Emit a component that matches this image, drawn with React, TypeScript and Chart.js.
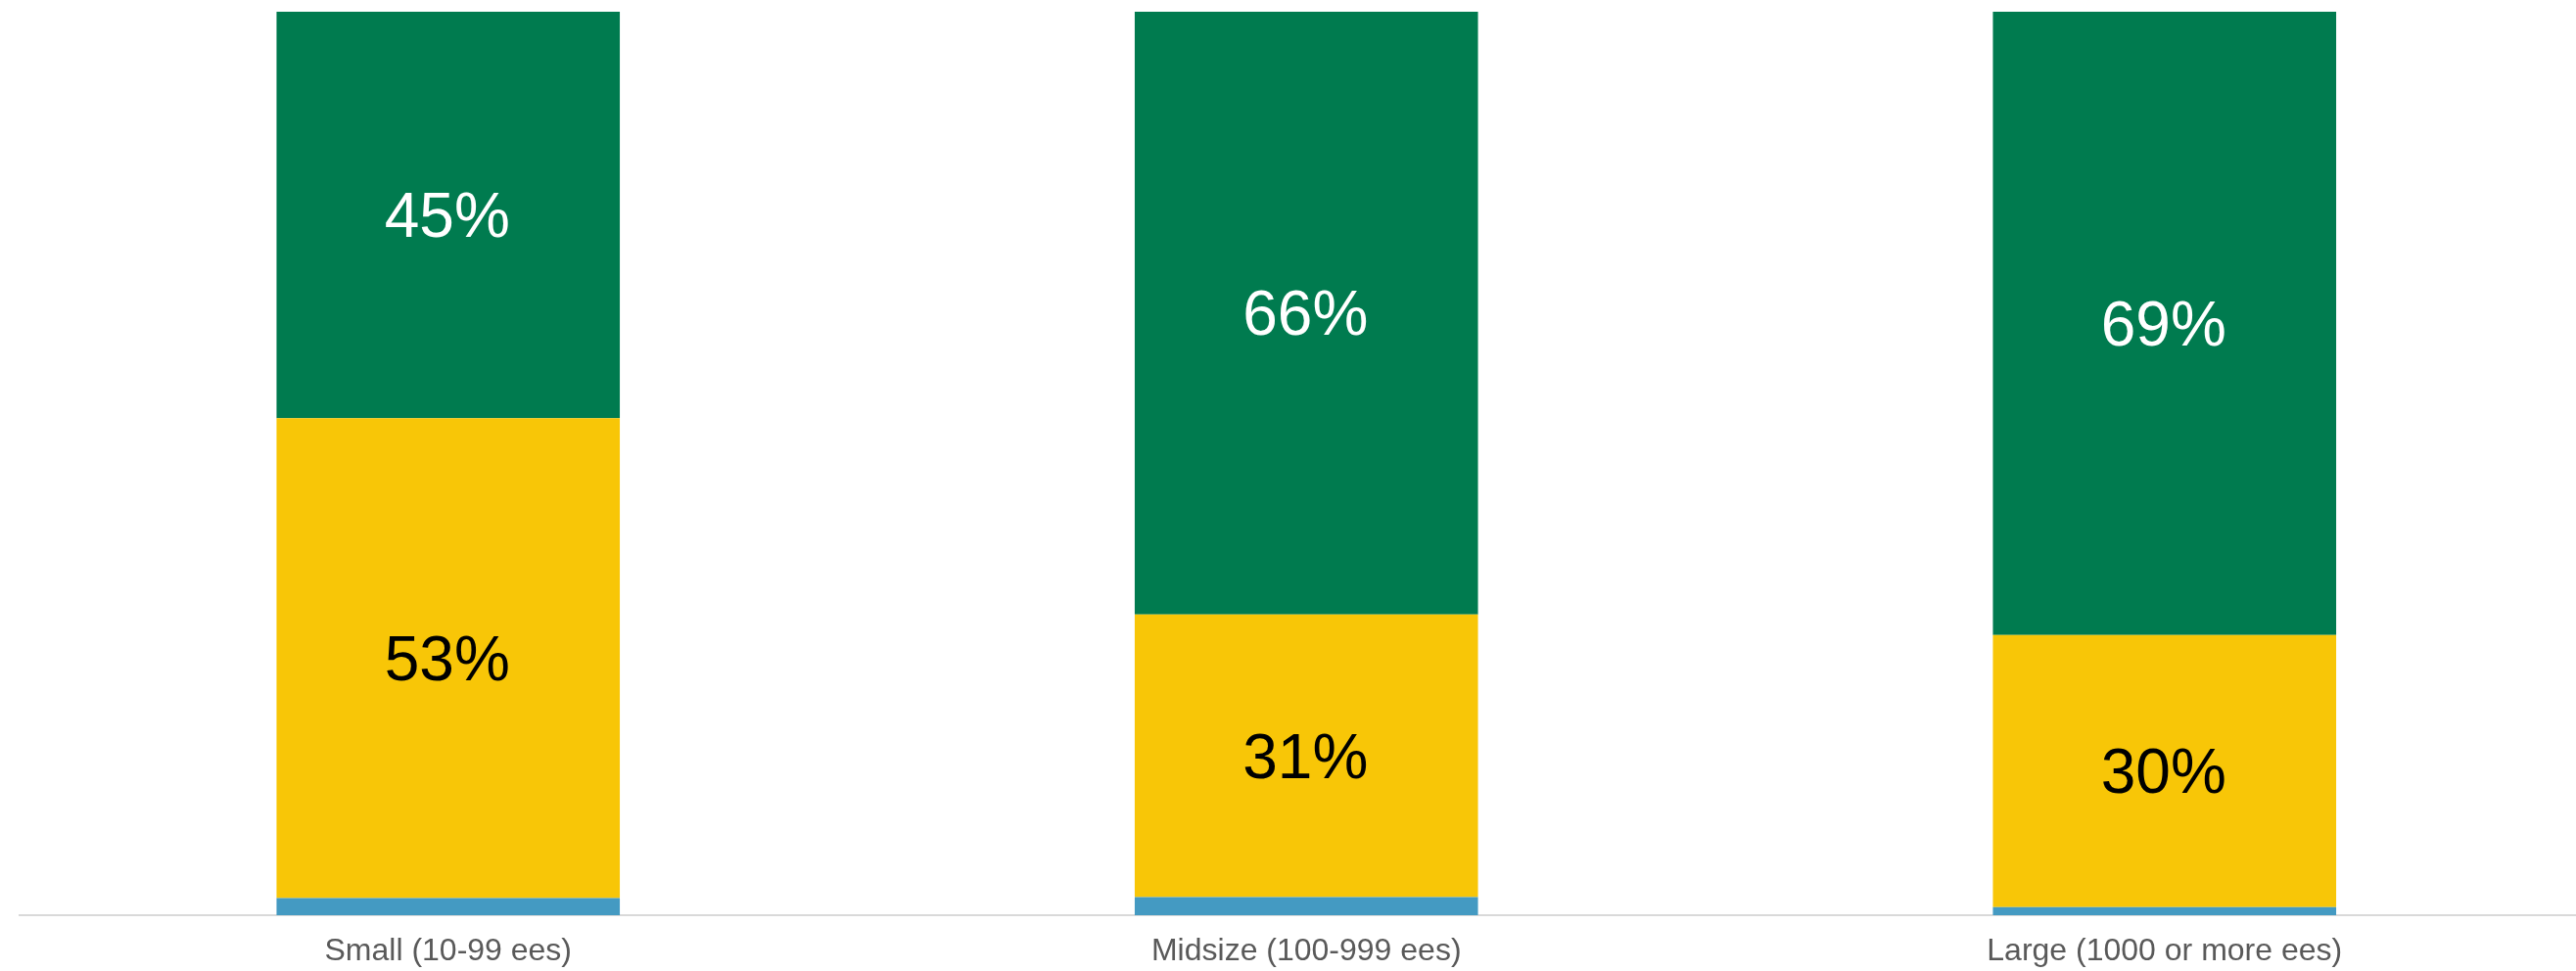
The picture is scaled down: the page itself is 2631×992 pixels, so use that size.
import React, { useEffect, useRef } from "react";
import { Chart, registerables } from "chart.js";

Chart.register(...registerables);

const categories = ["Small (10-99 ees)", "Midsize (100-999 ees)", "Large (1000 or more ees)"];
const blueValues = [1.9, 2.0, 0.9];
const yellowValues = [53.1, 31.3, 30.1];
const greenValues = [45.0, 66.7, 69.0];
const yellowLabels = ["53%", "31%", "30%"];
const greenLabels = ["45%", "66%", "69%"];

const BLUE = "rgb(68,154,194)";
const YELLOW = "rgb(248,198,7)";
const GREEN = "rgb(0,123,79)";
const FONT = "'Liberation Sans', Arial, sans-serif";

const labelPlugin = {
  id: "segmentLabels",
  afterDatasetsDraw(chart: any) {
    const ctx = chart.ctx;
    chart.data.datasets.forEach((ds: any, i: number) => {
      const texts: string[] | undefined = ds.segLabels;
      if (!texts) return;
      const meta = chart.getDatasetMeta(i);
      meta.data.forEach((el: any, j: number) => {
        const t = texts[j];
        if (!t) return;
        const props = el.getProps(["x", "y", "base"], true);
        ctx.save();
        ctx.font = `64px ${FONT}`;
        ctx.fillStyle = ds.segColor;
        ctx.textAlign = "center";
        ctx.textBaseline = "middle";
        ctx.fillText(t, props.x - 1, (props.y + props.base) / 2 + 5);
        ctx.restore();
      });
    });
  },
};

export default function App() {
  const ref = useRef<HTMLCanvasElement | null>(null);
  useEffect(() => {
    document.body.style.margin = "0";
    document.body.style.overflow = "hidden";
    const canvas = ref.current!;
    const chart = new Chart(canvas, {
      type: "bar",
      data: {
        labels: categories,
        datasets: [
          { label: "Blue", data: blueValues, backgroundColor: BLUE },
          { label: "Yellow", data: yellowValues, backgroundColor: YELLOW, segLabels: yellowLabels, segColor: "#000000" } as any,
          { label: "Green", data: greenValues, backgroundColor: GREEN, segLabels: greenLabels, segColor: "#ffffff" } as any,
        ],
      },
      options: {
        responsive: false,
        animation: false,
        devicePixelRatio: 1,
        layout: { padding: { top: 12, left: 19.5, right: 0, bottom: 0 } },
        datasets: { bar: { barPercentage: 1, categoryPercentage: 0.4 } },
        plugins: { legend: { display: false }, tooltip: { enabled: false } },
        scales: {
          x: {
            stacked: true,
            grid: { display: false, drawTicks: false },
            border: { display: true, color: "#d9d9d9", width: 2 },
            ticks: { color: "#595959", font: { family: FONT, size: 32 }, padding: 18 },
            afterFit: (scale: any) => {
              scale.height = 57;
            },
          },
          y: {
            stacked: true,
            display: false,
            min: 0,
            max: 100,
          },
        },
      },
      plugins: [labelPlugin],
    } as any);
    return () => chart.destroy();
  }, []);
  return (
    <div style={{ position: "relative", width: 2631, height: 992, overflow: "hidden" }}>
      <canvas ref={ref} width={2649} height={992} style={{ position: "absolute", left: 0, top: 0, width: 2649, height: 992 }} />
    </div>
  );
}
